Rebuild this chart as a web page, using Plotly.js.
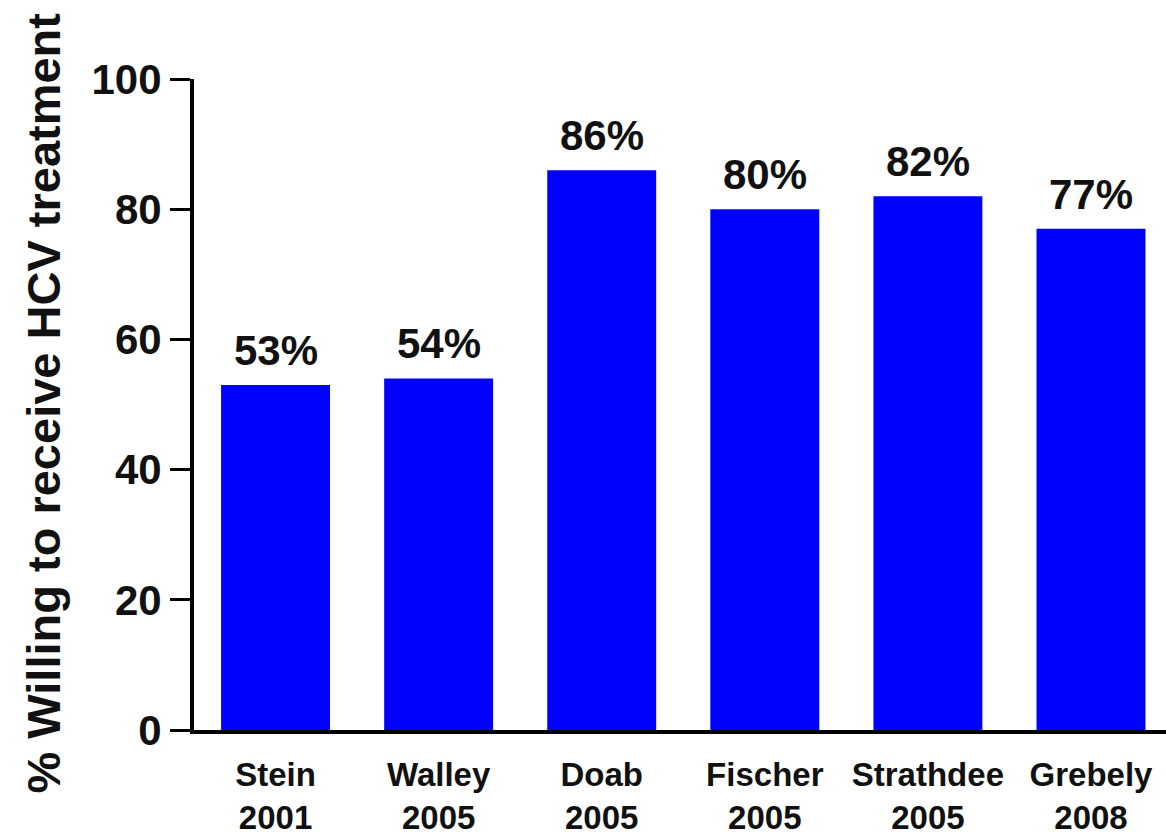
<!DOCTYPE html>
<html>
<head>
<meta charset="utf-8">
<script src="https://cdn.plot.ly/plotly-3.0.1.min.js"></script>
<style>
  html, body { margin: 0; padding: 0; background: #ffffff; }
  #chart { width: 1166px; height: 839px; }
</style>
</head>
<body>
<div id="chart"></div>
<script>
// Studies reporting willingness to receive HCV treatment
const studies = ['Stein', 'Walley', 'Doab', 'Fischer', 'Strathdee', 'Grebely'];
const years = ['2001', '2005', '2005', '2005', '2005', '2008'];
const willing = [53, 54, 86, 80, 82, 77];
const yTicks = [0, 20, 40, 60, 80, 100];
const yTitle = '% Willing to receive HCV treatment';

const FONT = '"Liberation Sans", Arial, Helvetica, sans-serif';

const categoryLabels = studies.map((s, i) => s + '<br>' + years[i]);

const bars = {
  type: 'bar',
  x: studies,
  y: willing,
  marker: { color: '#0000ff', line: { width: 0 } },
  hoverinfo: 'skip',
  showlegend: false
};

// Percentage labels above each bar
const valueLabels = studies.map((s, i) => ({
  x: s,
  y: willing[i],
  xref: 'x',
  yref: 'y',
  text: willing[i] + '%',
  showarrow: false,
  yanchor: 'bottom',
  yshift: 9,
  font: { family: FONT, size: 42, weight: 'bold', color: '#111111' }
}));

const titleAnnotation = {
  xref: 'paper',
  yref: 'paper',
  x: 0,
  y: 0.5,
  xanchor: 'center',
  yanchor: 'middle',
  xshift: -151,
  yshift: 1,
  textangle: -90,
  text: yTitle,
  showarrow: false,
  font: { family: FONT, size: 47, weight: 'bold', color: '#111111' }
};

const layout = {
  width: 1166,
  height: 839,
  margin: { l: 194, r: 0, t: 79, b: 109, pad: 0 },
  paper_bgcolor: '#ffffff',
  plot_bgcolor: '#ffffff',
  bargap: 0.332,
  font: { family: FONT, color: '#111111' },
  xaxis: {
    type: 'category',
    range: [-0.5, 5.46],
    tickvals: studies,
    ticktext: categoryLabels,
    ticks: 'outside',
    ticklen: 12,
    tickcolor: 'rgba(0,0,0,0)',
    tickfont: { family: FONT, size: 33, weight: 'bold', color: '#111111' },
    showline: true,
    linecolor: '#000000',
    linewidth: 4,
    showgrid: false,
    zeroline: false,
    fixedrange: true
  },
  yaxis: {
    range: [0, 100],
    tickvals: yTicks,
    ticks: 'outside',
    ticklen: 20,
    tickwidth: 3,
    tickcolor: '#000000',
    tickfont: { family: FONT, size: 42, weight: 'bold', color: '#111111' },
    showline: true,
    linecolor: '#000000',
    linewidth: 4,
    showgrid: false,
    zeroline: false,
    fixedrange: true
  },
  annotations: valueLabels.concat([titleAnnotation])
};

Plotly.newPlot('chart', [bars], layout, { displayModeBar: false, staticPlot: true });
</script>
</body>
</html>
